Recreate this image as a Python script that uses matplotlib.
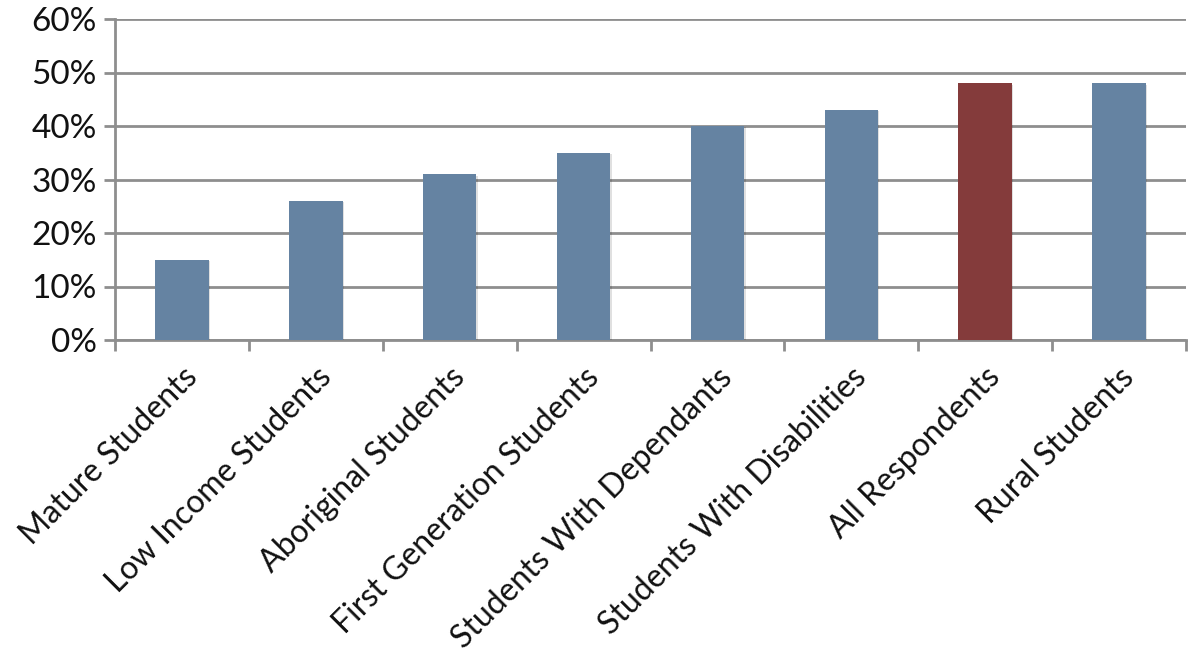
import numpy as np
import matplotlib
matplotlib.use("Agg")
import matplotlib.pyplot as plt
import matplotlib.patheffects as pe
from matplotlib.ticker import FuncFormatter

categories = ["Mature Students", "Low Income Students", "Aboriginal Students",
              "First Generation Students", "Students With Dependants",
              "Students With Disabilities", "All Respondents", "Rural Students"]
values = [15, 26, 31, 35, 40, 43, 48, 48]
highlight = "All Respondents"

blue = "#6583A2"
red = "#843B3B"
grey = "#8E8E8E"

plt.rcParams['font.family'] = ['Lato', 'DejaVu Sans']

fig = plt.figure(figsize=(11.94, 6.61), dpi=100)
ax = fig.add_axes([115 / 1194, 1 - 340 / 661, (1186 - 115) / 1194, (340 - 19) / 661])

x = np.arange(len(categories))
colors = [red if c == highlight else blue for c in categories]
bars = ax.bar(x, values, width=0.4, color=colors, zorder=3)
for b in bars:
    b.set_path_effects([pe.SimplePatchShadow(offset=(1, -1), shadow_rgbFace="#000000", alpha=0.12),
                        pe.Normal()])

ax.set_xlim(-0.5, len(categories) - 0.5)
ax.set_ylim(0, 60)
ax.set_yticks(np.arange(0, 61, 10))
ax.yaxis.set_major_formatter(FuncFormatter(lambda v, p: f"{int(v)}%"))
ax.grid(axis="y", color=grey, linewidth=2, zorder=0)

# boundary ticks (major) and centered labels (minor)
ax.set_xticks(np.arange(-0.5, len(categories), 1.0))
ax.set_xticklabels([])
ax.set_xticks(x, minor=True)
ax.set_xticklabels(categories, minor=True, rotation=45, ha="right",
                   rotation_mode="anchor", fontsize=23, color="#111111")
ax.tick_params(axis="x", which="major", length=8, width=2, color=grey, direction="out")
ax.tick_params(axis="x", which="minor", length=0, pad=16)
ax.tick_params(axis="y", length=8, width=2, color=grey, labelsize=24, labelcolor="#111111", pad=5)

for s in ["top", "right"]:
    ax.spines[s].set_visible(False)
for s in ["left", "bottom"]:
    ax.spines[s].set_color(grey)
    ax.spines[s].set_linewidth(2)

fig.savefig("out.png", dpi=100)
